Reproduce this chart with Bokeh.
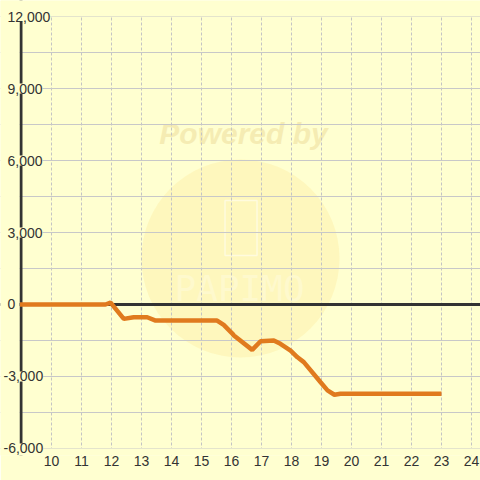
from bokeh.plotting import figure
from bokeh.models import Range1d, FixedTicker, ColumnDataSource, LabelSet, Span, BoxAnnotation
from bokeh.embed import file_html
from bokeh.resources import INLINE
from bokeh.core.properties import value

# ---- data ----
hours = [8.95, 11.8, 11.97, 12.41, 12.74, 13.19, 13.47, 15.52, 15.74, 16.02, 16.08,
         16.69, 16.97, 17.41, 17.63, 17.97, 18.2, 18.41, 18.97, 19.2, 19.43, 19.63, 23.0]
balance = [0, 0, 80, -600, -530, -530, -670, -670, -850, -1200, -1290,
           -1890, -1530, -1500, -1640, -1920, -2200, -2400, -3240, -3580, -3760, -3720, -3720]
x_ticks = list(range(10, 25))
y_ticks = [-6000, -3000, 0, 3000, 6000, 9000, 12000]
y_tick_labels = ["-6,000", "-3,000", "0", "3,000", "6,000", "9,000", "12,000"]
y_grid = list(range(-6000, 12001, 1500))

BG = "#FFFFD0"
TXT = "#333333"
X0, X1 = 8.3, 24.3
AXIS_X = 8.983
Y_MIN, Y_MAX = -6000, 12000
Y0, Y1 = -6291.67, 12666.67

p = figure(width=480, height=480, output_backend="svg", toolbar_location=None,
           x_range=Range1d(X0, X1), y_range=Range1d(Y0, Y1),
           min_border_left=0, min_border_right=0, min_border_top=0, min_border_bottom=25,
           background_fill_color=BG, border_fill_color=BG, outline_line_color=None)

# watermark (under grid)
p.circle(x=[16.3], y=[1917], radius=99, radius_units="screen",
         fill_color="#FBE48C", fill_alpha=0.28, line_color=None, level="image")
p.text(x=[16.4], y=[7125], text=["Powered by"], text_font=value("Liberation Sans"),
       text_font_style="bold italic", text_font_size="30px", text_color="#EFE0A0",
       text_alpha=0.6, text_align="center", text_baseline="middle", level="image")
p.rect(x=[16.317], y=[3187], width=32, height=55, width_units="screen", height_units="screen",
       fill_color=None, line_color="white", line_alpha=0.5, line_width=1.5, level="image")
p.text(x=[16.27], y=[660], text=["PAPIMO"], text_font=value("DejaVu Sans Mono"),
       text_font_size="36px", text_color="white", text_alpha=0.25,
       text_align="center", text_baseline="middle", level="image")

# axes / grid
p.yaxis.visible = False
p.xaxis.ticker = FixedTicker(ticks=x_ticks)
p.xaxis.axis_line_color = None
p.xaxis.major_tick_line_color = None
p.xaxis.minor_tick_line_color = None
p.xaxis.major_tick_out = 0
p.xaxis.major_label_standoff = 0
p.xaxis.major_label_text_font = "Liberation Sans"
p.xaxis.major_label_text_font_size = "14px"
p.xaxis.major_label_text_color = TXT

p.xgrid.ticker = FixedTicker(ticks=x_ticks)
p.xgrid.grid_line_color = "#C4C4C4"
p.xgrid.grid_line_dash = "3 2"
p.xgrid.grid_line_width = 1
p.ygrid.ticker = FixedTicker(ticks=y_grid)
p.ygrid.grid_line_color = "#C8C8C8"
p.ygrid.grid_line_width = 1

p.add_layout(Span(location=0, dimension="width", line_color=TXT, line_width=3, level="underlay"))
p.add_layout(Span(location=AXIS_X, dimension="height", line_color=TXT, line_width=3, level="underlay"))
# mask everything outside the plotting rectangle
for kw in (dict(right=AXIS_X - 0.05), dict(bottom=Y_MAX), dict(top=Y_MIN)):
    p.add_layout(BoxAnnotation(fill_color=BG, fill_alpha=1, line_color=None, level="underlay", **kw))

p.line(hours, balance, line_color="#E07A1E", line_width=4.5)

offsets = [3 if s.startswith("-") else 7 for s in y_tick_labels]
src = ColumnDataSource(dict(y=y_ticks, label=y_tick_labels, off=offsets))
labels = LabelSet(x=X0, y="y", text="label", source=src, x_offset="off",
                  text_align="left", text_baseline="middle",
                  text_font=value("Liberation Sans"), text_font_size="14px",
                  text_color=TXT, background_fill_color=BG)
p.add_layout(labels)

open("out.html", "w").write(file_html(p, INLINE))
